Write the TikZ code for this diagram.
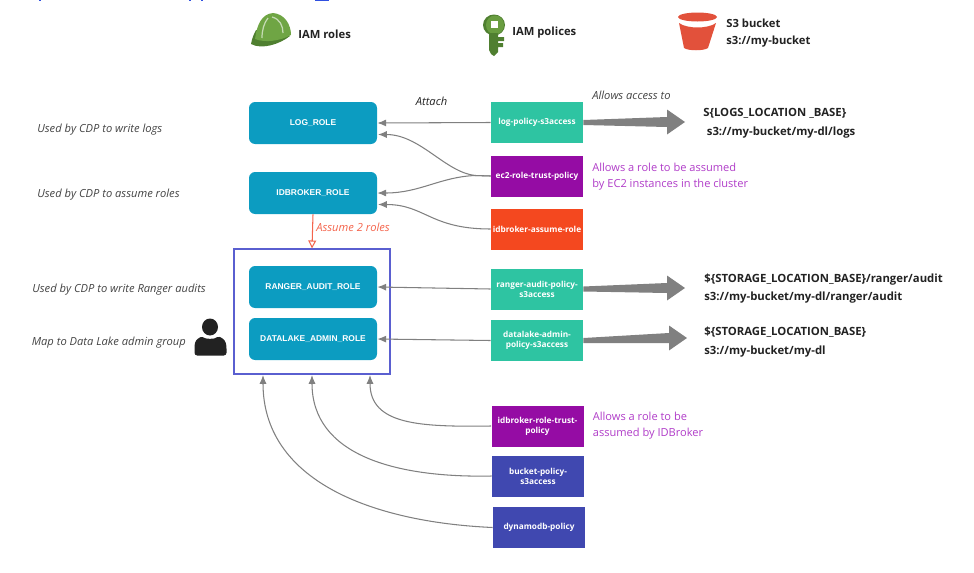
\documentclass[tikz,border=0pt]{standalone}
\usepackage{fontspec}
\setmainfont{Open Sans}
\newfontfamily\boxfont{Liberation Sans}
\definecolor{rolecol}{HTML}{0C9CC1}
\definecolor{tealcol}{HTML}{2EC4A2}
\definecolor{purplecol}{HTML}{950CA4}
\definecolor{orangecol}{HTML}{F4481F}
\definecolor{indigocol}{HTML}{4048B0}
\definecolor{notecol}{HTML}{B03CC8}
\definecolor{assumecol}{HTML}{F4644C}
\definecolor{groupcol}{HTML}{5A5FD0}
\definecolor{linkcol}{HTML}{808080}
\definecolor{inkcol}{HTML}{222222}
\definecolor{helmetcol}{HTML}{6FA544}
\definecolor{brimcol}{HTML}{4F7F30}
\definecolor{bucketcol}{HTML}{E2513B}
\definecolor{topcol}{HTML}{3050E0}
\usetikzlibrary{arrows.meta,calc}
\tikzset{
  rolebox/.style={fill=rolecol, rounded corners=3.5pt, minimum width=128*0.02cm, minimum height=42*0.02cm, text=white, font=\boxfont\bfseries\fontsize{4.8}{6}\selectfont, inner sep=0pt},
  policybox/.style={minimum width=92*0.02cm, minimum height=41*0.02cm, text=white, align=center, font=\bfseries\fontsize{4.7}{5.8}\selectfont, inner sep=0pt},
  usenote/.style={anchor=west, text=inkcol!85, font=\itshape\fontsize{6.35}{8}\selectfont, inner sep=0pt},
  headnote/.style={anchor=west, align=left, text=inkcol, font=\bfseries\fontsize{6.4}{9.2}\selectfont, inner sep=0pt},
  pathnote/.style={anchor=west, align=left, text=inkcol, font=\bfseries\fontsize{6.45}{10.6}\selectfont, inner sep=0pt},
  purplenote/.style={anchor=west, align=left, text=notecol, font=\fontsize{6.3}{9}\selectfont, inner sep=0pt},
  link/.style={draw=linkcol, line width=0.6pt, -{Latex[length=5pt,width=4pt]}}
}
\newcommand{\bigarrow}[2]{\fill[linkcol] ($(#1)+(0,-2.5)$) -- ($(#2)+(-18,-5)$) -- ($(#2)+(-18,-12.5)$) -- (#2) -- ($(#2)+(-18,12.5)$) -- ($(#2)+(-18,5)$) -- ($(#1)+(0,2.5)$) -- cycle;}
\begin{document}
\begin{tikzpicture}[x=0.02cm, y=-0.02cm]
\useasboundingbox (0,0) rectangle (974,572);
% cut-off line at the top
\foreach \xa/\xb in {39/41,189/191,201/203,315/329}
  \fill[topcol] (\xa,0) rectangle (\xb,1.2);
% roles
\node[draw=groupcol, line width=0.7pt, minimum width=156*0.02cm, minimum height=125*0.02cm, inner sep=0pt] (group) at (312,311.5) {};
\node[rolebox] (logrole) at (313,123) {LOG\_ROLE};
\node[rolebox] (idbrokerrole) at (313,193) {IDBROKER\_ROLE};
\node[rolebox] (rangerrole) at (313,287) {RANGER\_AUDIT\_ROLE};
\node[rolebox] (adminrole) at (313,339) {DATALAKE\_ADMIN\_ROLE};
% policies
\node[policybox, fill=tealcol] (logpolicy) at (537,122.5) {log-policy-s3access};
\node[policybox, fill=purplecol] (ec2policy) at (537,176) {ec2-role-trust-policy};
\node[policybox, fill=orangecol] (assumepolicy) at (537,229) {idbroker-assume-role};
\node[policybox, fill=tealcol] (rangerpolicy) at (537,289) {ranger-audit-policy-\\s3access};
\node[policybox, fill=tealcol] (adminpolicy) at (537,340.5) {datalake-admin-\\policy-s3access};
\node[policybox, fill=purplecol] (trustpolicy) at (537.5,426) {idbroker-role-trust-\\policy};
\node[policybox, fill=indigocol] (bucketpolicy) at (538,476) {bucket-policy-\\s3access};
\node[policybox, fill=indigocol] (dynamopolicy) at (539,527.5) {dynamodb-policy};
% left side notes
\node[usenote] (notelogs) at (37,130) {Used by CDP to write logs};
\node[usenote] (noteassume) at (37,194.5) {Used by CDP to assume roles};
\node[usenote] (noteranger) at (32,289.5) {Used by CDP to write Ranger audits};
\node[usenote] (noteadmin) at (31.5,342.5) {Map to Data Lake admin group};
\node[usenote, text=inkcol] (attach) at (415.5,101) {Attach};
\node[usenote] (allows) at (592,95) {Allows access to};
\node[usenote, text=assumecol] (assume2) at (316,227.5) {Assume 2 roles};
% header
\node[headnote] (iamroles) at (298,34) {IAM roles};
\node[headnote] (iampolices) at (512,32.5) {IAM polices};
\node[headnote] (s3bucket) at (726,33) {S3 bucket\\s3://my-bucket};
% targets
\node[pathnote] (logspath) at (703,123) {S\{LOGS\_LOCATION \_BASE\}\\\hspace*{2pt}s3://my-bucket/my-dl/logs};
\node[pathnote] (rangerpath) at (704,288.5) {\$\{STORAGE\_LOCATION\_BASE\}/ranger/audit\\s3://my-bucket/my-dl/ranger/audit};
\node[pathnote] (adminpath) at (704,342) {\$\{STORAGE\_LOCATION\_BASE\}\\s3://my-bucket/my-dl};
\node[purplenote] (ec2note) at (592,177) {Allows a role to be assumed\\by EC2 instances in the cluster};
\node[purplenote] (trustnote) at (592.5,426) {Allows a role to be\\assumed by IDBroker};
% attach arrows
\coordinate (logrole2) at (378,134.5);
\coordinate (idbroker2) at (378,204.5);
\coordinate (group1) at (263,375);
\coordinate (group2) at (312,375);
\coordinate (group3) at (370,375);
\coordinate (ec2west) at (475,175.5);
\draw[link] (logpolicy.west) -- (logrole.east);
\draw[link] (ec2policy.west) -- (ec2west) .. controls (445,172) and (420,134.5) .. (logrole2);
\draw[link] (ec2policy.west) -- (ec2west) .. controls (440,177) and (420,193) .. (idbrokerrole.east);
\draw[link] (assumepolicy.west) .. controls (430,229) and (425,204.5) .. (idbroker2);
\draw[link] (rangerpolicy.west) -- (rangerrole.east);
\draw[link] (adminpolicy.west) -- (adminrole.east);
\draw[link] (trustpolicy.west) .. controls (420,427) and (370,425) .. (group3);
\draw[link] (bucketpolicy.west) .. controls (395,478) and (312,455) .. (group2);
\draw[link] (dynamopolicy.west) .. controls (370,522) and (263,480) .. (group1);
\draw[draw=assumecol, line width=0.6pt, -{Triangle[open,length=4.5pt,width=4.5pt]}] (idbrokerrole.south) -- (group.north);
% access arrows
\coordinate (logtip) at (685,122);
\coordinate (rangertip) at (685,288);
\coordinate (admintip) at (687,338);
\bigarrow{logpolicy.east}{logtip}
\bigarrow{rangerpolicy.east}{rangertip}
\bigarrow{adminpolicy.east}{admintip}
% helmet
\fill[brimcol] (251,44) .. controls (252,38) and (254,34) .. (256,30) -- (290,36) .. controls (280,44) and (262,50) .. (251,44) -- cycle;
\fill[helmetcol] (255,39) .. controls (257,24) and (262,14) .. (273,13) .. controls (285,14) and (291,25) .. (291,35) .. controls (280,41) and (265,43) .. (255,39) -- cycle;
\draw[white!60!helmetcol, line width=0.7pt] (272,17) .. controls (280,19) and (283,26) .. (283,33);
\draw[white!60!helmetcol, line width=0.7pt] (268,18) .. controls (264,23) and (262,30) .. (262,38);
% key
\fill[brimcol] (494,25) ellipse (11 and 10.5);
\fill[helmetcol!80!brimcol] (495,25) ellipse (9 and 9.5);
\fill[white] (491,21) rectangle (498,28);
\fill[brimcol] (489,33) -- (498,33) -- (498,37) -- (504,37) -- (504,41) -- (498,41) -- (498,43) -- (503,43) -- (503,47) -- (498,47) -- (498,52) -- (494,56) -- (491,54) -- (489,50) -- cycle;
% s3 bucket
\fill[bucketcol] (679,23) .. controls (687,29) and (708,29) .. (716,23) -- (708,48) .. controls (704,51) and (688,51) .. (684,48) -- cycle;
\fill[bucketcol] (697.5,17) ellipse (19.5 and 4.5);
% person
\fill[inkcol] (210,327) ellipse (8 and 8.5);
\fill[inkcol, rounded corners=1.5pt] (194.5,355.5) -- (194.5,345) .. controls (196,339) and (201,337) .. (203,336.5) .. controls (206,339) and (214,339) .. (217,336.5) .. controls (220,337) and (225,339) .. (226.5,346) -- (226.5,355.5) -- cycle;
\end{tikzpicture}
\end{document}
